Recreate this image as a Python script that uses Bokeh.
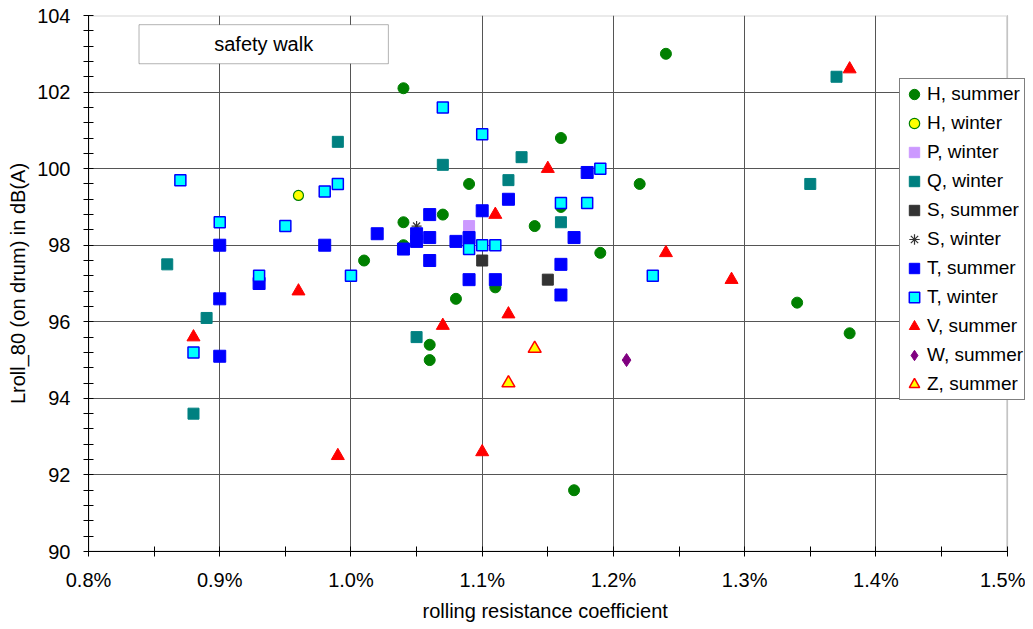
from bokeh.plotting import figure
from bokeh.models import FixedTicker, PrintfTickFormatter, BoxAnnotation, Label, Title
from bokeh.embed import file_html
from bokeh.resources import INLINE

# ---- data (rolling resistance coefficient in %, Lroll_80 in dB(A)) ----
h_summer_x = [1.24, 1.04, 1.16, 1.09, 1.22, 1.07, 1.04, 1.14, 1.04, 1.01, 1.19, 1.16, 1.08, 1.11, 1.06, 1.06, 1.17, 1.34, 1.38]
h_summer_y = [103.0, 102.1, 100.8, 99.6, 99.6, 98.8, 98.6, 98.5, 98.0, 97.6, 97.8, 99.0, 96.6, 96.9, 95.4, 95.0, 91.6, 96.5, 95.7]
h_winter_x = [0.96]
h_winter_y = [99.3]
p_winter_x = [1.09]
p_winter_y = [98.5]
q_winter_x = [0.99, 0.86, 0.89, 0.88, 1.07, 1.13, 1.12, 1.16, 1.37, 1.35, 1.05]
q_winter_y = [100.7, 97.5, 96.1, 93.6, 100.1, 100.3, 99.7, 98.6, 102.4, 99.6, 95.6]
s_summer_x = [1.10, 1.15]
s_summer_y = [97.6, 97.1]
s_winter_x = [1.05]
s_winter_y = [98.5]
t_summer_x = [0.90, 0.90, 0.90, 0.93, 0.98, 1.02, 1.04, 1.05, 1.05, 1.06, 1.06, 1.06, 1.08, 1.09, 1.09, 1.10, 1.11, 1.12, 1.16, 1.16, 1.17, 1.18]
t_summer_y = [98.0, 96.6, 95.1, 97.0, 98.0, 98.3, 97.9, 98.3, 98.1, 98.8, 98.2, 97.6, 98.1, 98.2, 97.1, 98.9, 97.1, 99.2, 97.5, 96.7, 98.2, 99.9]
t_winter_x = [0.87, 0.90, 0.93, 0.95, 0.98, 0.99, 1.00, 0.88, 1.07, 1.10, 1.09, 1.10, 1.11, 1.16, 1.18, 1.19, 1.23]
t_winter_y = [99.7, 98.6, 97.2, 98.5, 99.4, 99.6, 97.2, 95.2, 101.6, 100.9, 97.9, 98.0, 98.0, 99.1, 99.1, 100.0, 97.2]
v_summer_x = [0.96, 0.88, 0.99, 1.11, 1.15, 1.24, 1.12, 1.07, 1.10, 1.29, 1.38]
v_summer_y = [96.8, 95.6, 92.5, 98.8, 100.0, 97.8, 96.2, 95.9, 92.6, 97.1, 102.6]
w_summer_x = [1.21]
w_summer_y = [95.0]
z_summer_x = [1.14, 1.12]
z_summer_y = [95.3, 94.4]

x_major = [0.8, 0.9, 1.0, 1.1, 1.2, 1.3, 1.4, 1.5]
x_minor = [0.85, 0.95, 1.05, 1.15, 1.25, 1.35, 1.45]
y_major = [90, 92, 94, 96, 98, 100, 102, 104]
y_minor = [90.4, 90.8, 91.2, 91.6, 92.4, 92.8, 93.2, 93.6, 94.4, 94.8, 95.2, 95.6,
           96.4, 96.8, 97.2, 97.6, 98.4, 98.8, 99.2, 99.6, 100.4, 100.8, 101.2, 101.6,
           102.4, 102.8, 103.2, 103.6]
X_MIN, X_MAX, X_VIEW_END = 0.8, 1.5, 1.514
Y_MIN, Y_MAX = 90, 104

FONT = "Liberation Sans"
FS = "20px"

p = figure(width=1025, height=629, x_range=(X_MIN, X_VIEW_END), y_range=(Y_MIN, Y_MAX),
           output_backend="svg", toolbar_location=None,
           min_border_left=88, min_border_right=0, min_border_top=15, min_border_bottom=78)

p.outline_line_color = None
p.background_fill_color = "white"
p.border_fill_color = "white"

p.xaxis.ticker = FixedTicker(ticks=x_major, minor_ticks=x_minor)
p.yaxis.ticker = FixedTicker(ticks=y_major, minor_ticks=y_minor)
p.xaxis.formatter = PrintfTickFormatter(format="%.1f%%")
p.xaxis.bounds = (X_MIN, X_MAX)

for ax in (p.xaxis, p.yaxis):
    ax.axis_line_color = "black"
    ax.major_tick_line_color = "black"
    ax.minor_tick_line_color = "black"
    ax.major_tick_in = 5
    ax.major_tick_out = 5
    ax.minor_tick_in = 5
    ax.minor_tick_out = 5
    ax.major_label_text_font = FONT
    ax.major_label_text_font_size = FS
    ax.major_label_text_color = "black"
    ax.axis_label_text_font = FONT
    ax.axis_label_text_font_size = FS
    ax.axis_label_text_font_style = "normal"
    ax.axis_label_text_color = "black"

p.yaxis.axis_label = "Lroll_80 (on drum) in dB(A)"
p.xaxis.major_label_standoff = 12
p.yaxis.major_label_standoff = 13
p.yaxis.axis_label_standoff = 5

p.add_layout(Title(text="rolling resistance coefficient", align="left", offset=334, standoff=8,
                   text_font=FONT, text_font_size=FS, text_font_style="normal",
                   text_color="black"), "below")

p.xgrid.ticker = FixedTicker(ticks=x_major)
p.ygrid.ticker = FixedTicker(ticks=y_major)
p.xgrid.grid_line_color = "#555555"
p.ygrid.grid_line_color = "#555555"

SZ = 11
p.scatter(h_summer_x, h_summer_y, marker="circle", size=SZ, fill_color="#008000", line_color="#008000", legend_label="H, summer")
p.scatter(h_winter_x, h_winter_y, marker="circle", size=10, fill_color="#FFFF00", line_color="#008000", line_width=1.2, legend_label="H, winter")
p.scatter(p_winter_x, p_winter_y, marker="square", size=SZ, fill_color="#CC99FF", line_color="#CC99FF", legend_label="P, winter")
p.scatter(q_winter_x, q_winter_y, marker="square", size=SZ, fill_color="#008080", line_color="#008080", legend_label="Q, winter")
p.scatter(s_summer_x, s_summer_y, marker="square", size=SZ, fill_color="#333333", line_color="#333333", legend_label="S, summer")
p.scatter(s_winter_x, s_winter_y, marker="asterisk", size=10, line_color="#333333", line_width=1.2, legend_label="S, winter")
p.scatter(t_summer_x, t_summer_y, marker="square", size=12, fill_color="#0000FF", line_color="#0000FF", legend_label="T, summer")
p.scatter(t_winter_x, t_winter_y, marker="square", size=11, fill_color="#00FFFF", line_color="#0000FF", line_width=1.5, legend_label="T, winter")
p.scatter(v_summer_x, v_summer_y, marker="triangle", size=13, fill_color="#FF0000", line_color="#FF0000", legend_label="V, summer")
p.scatter(w_summer_x, w_summer_y, marker="diamond", size=13, fill_color="#800080", line_color="#800080", legend_label="W, summer")
p.scatter(z_summer_x, z_summer_y, marker="triangle", size=13, fill_color="#FFFF00", line_color="#FF0000", line_width=1.5, legend_label="Z, summer")

lg = p.legend[0]
lg.location = (811, 151)
lg.margin = 0
lg.padding = 1
lg.spacing = 1
lg.glyph_width = 26
lg.glyph_height = 28
lg.label_height = 20
lg.label_standoff = 0
lg.label_text_font = FONT
lg.label_text_font_size = "19px"
lg.label_text_color = "black"
lg.border_line_color = "black"
lg.border_line_width = 1
lg.background_fill_color = "white"
lg.background_fill_alpha = 1.0

# white area right of the 1.5 % edge, and the plot-area outline
p.add_layout(BoxAnnotation(left=X_MAX, fill_color="white", fill_alpha=1.0, line_color=None, level="underlay"))
p.add_layout(BoxAnnotation(left=X_MIN, right=X_MAX, top=Y_MAX, bottom=Y_MIN, fill_alpha=0,
                           line_color="#707070", line_width=2, level="underlay"))

box = BoxAnnotation(left=0.8385, right=1.0285, top=103.76, bottom=102.74,
                    fill_color="white", fill_alpha=1.0, line_color="black", line_width=1)
p.add_layout(box)
p.add_layout(Label(x=0.9335, y=103.25, text="safety walk", text_align="center",
                   text_baseline="middle", text_font=FONT, text_font_size=FS, text_color="black"))

open("out.html", "w").write(file_html(p, INLINE))
